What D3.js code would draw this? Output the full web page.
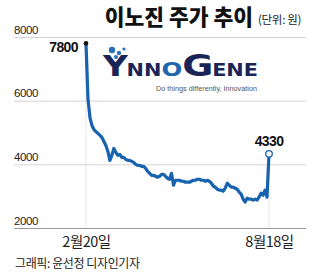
<!DOCTYPE html>
<meta charset="utf-8" />
<script src="https://d3js.org/d3.v7.min.js"></script>
<style>
  body { margin: 0; background: #fff; }
  svg text { font-family: 'Liberation Sans', Arial, sans-serif; }
  .kr { font-family: 'Noto Sans CJK KR', sans-serif; }
</style>
<div id="chart"></div>
<script>
  // daily closing prices, 2/20 .. 8/18 (won)
  const prices = [
    7800, 6050, 5469, 5219, 5094, 5031, 4969, 4906, 4844, 4719,
    4594, 4406, 4125, 4281, 4500, 4375, 4281, 4313, 4219, 4219,
    4156, 4125, 4125, 4094, 4063, 4000, 3969, 3969, 3938, 3938,
    3875, 3781, 3719, 3656, 3656, 3625, 3594, 3625, 3688, 3688,
    3625, 3563, 3531, 3719, 3344, 3500, 3500, 3500, 3469, 3469,
    3438, 3438, 3438, 3469, 3500, 3500, 3531, 3531, 3500, 3500,
    3469, 3500, 3469, 3406, 3313, 3281, 3219, 3188, 3188, 3156,
    3250, 3406, 3344, 3281, 3281, 3250, 3219, 3125, 3063, 2906,
    2813, 2938, 2906, 2906, 2875, 2906, 2875, 2969, 3094, 3031,
    3188, 2969, 4330
  ];
  const xTickLabels = ['2월20일', '8월18일'];
  const yTicks = [2000, 4000, 6000, 8000];

  const W = 320, H = 274;
  const svg = d3.select('#chart').append('svg')
    .attr('width', W).attr('height', H);

  const x = d3.scaleLinear().domain([0, prices.length - 1]).range([86, 269]);
  const y = d3.scaleLinear().domain([2000, 8000]).range([228, 37]);

  // title
  svg.append('text').attr('class', 'kr')
    .attr('x', 253).attr('y', 25)
    .attr('text-anchor', 'end')
    .style('font-size', '21.5px').style('font-weight', 900)
    .style('fill', '#111')
    .text('이노진 주가 추이');
  svg.append('text').attr('class', 'kr')
    .attr('x', 258).attr('y', 24)
    .style('font-size', '11.5px').style('fill', '#222')
    .style('letter-spacing', '-0.3px')
    .text('(단위: 원)');

  // y grid + labels
  const gy = svg.append('g')
    .attr('transform', 'translate(14,0)')
    .call(d3.axisRight(y).tickValues(yTicks).tickSize(292).tickFormat(d3.format('d')));
  gy.select('.domain').remove();
  gy.selectAll('.tick line').attr('stroke', d => d === 2000 ? '#999' : '#d4d4d4');
  gy.selectAll('.tick text')
    .attr('x', 0).attr('dy', -4)
    .attr('text-anchor', 'start')
    .style('font-size', '11.5px').style('fill', '#222')
    .style('letter-spacing', '-0.4px')
    .attr('y', 0);

  // dotted guides at start / end
  const ends = [0, prices.length - 1];
  svg.selectAll('.guide').data(ends).join('line')
    .attr('class', 'guide')
    .attr('x1', d => x(d)).attr('x2', d => x(d))
    .attr('y1', d => y(prices[d])).attr('y2', y(2000))
    .attr('stroke', '#ccc').attr('stroke-dasharray', '1,1');

  // x axis
  const gx = svg.append('g')
    .attr('transform', `translate(0,${y(2000)})`)
    .call(d3.axisBottom(x).tickValues(ends).tickSize(0)
      .tickFormat((d, i) => xTickLabels[i]));
  gx.select('.domain').remove();
  gx.selectAll('.tick text').attr('class', 'kr')
    .attr('dy', 0).attr('y', 18.5)
    .style('font-size', '14.5px').style('fill', '#222')
    .style('letter-spacing', '-0.5px');

  // logo (text rendition)
  const logo = svg.append('g');
  logo.append('text')
    .attr('x', 103).attr('y', 76)
    .attr('textLength', 155).attr('lengthAdjust', 'spacingAndGlyphs')
    .style('font-weight', 'bold').style('fill', '#1b2456')
    .style('font-family', "'DejaVu Sans', sans-serif")
    .call(t => {
      t.append('tspan').style('font-size', '28px').text('Y');
      t.append('tspan').style('font-size', '17px').attr('dx', -1).text('NN');
      t.append('tspan').style('font-size', '20px').style('fill', '#1e66b0').text('O');
      t.append('tspan').style('font-size', '31px').text('G');
      t.append('tspan').style('font-size', '17px').attr('dx', -1).text('ENE');
    });
  const dots = [[112, 50, 3.2], [119, 53, 2.2], [124, 49, 1.6], [116, 57, 2]];
  logo.selectAll('circle').data(dots).join('circle')
    .attr('cx', d => d[0]).attr('cy', d => d[1]).attr('r', d => d[2])
    .attr('fill', '#2a6fb8');
  logo.append('text')
    .attr('x', 156).attr('y', 91)
    .attr('textLength', 101).attr('lengthAdjust', 'spacingAndGlyphs')
    .style('font-size', '7.2px').style('fill', '#555')
    .text('Do things differently, Innovation');

  // price line
  const line = d3.line().x((d, i) => x(i)).y(d => y(d));
  svg.append('path').datum(prices)
    .attr('d', line)
    .attr('fill', 'none')
    .attr('stroke', '#1763b0')
    .attr('stroke-width', 3.2)
    .attr('stroke-linejoin', 'round');

  // endpoints
  svg.append('circle')
    .attr('cx', x(0)).attr('cy', y(prices[0])).attr('r', 2.3)
    .attr('fill', '#111');
  const last = prices.length - 1;
  svg.append('circle')
    .attr('cx', x(last)).attr('cy', y(prices[last])).attr('r', 3.3)
    .attr('fill', '#fff').attr('stroke', '#1763b0').attr('stroke-width', 1.3);

  svg.append('text')
    .attr('x', x(0) - 8).attr('y', y(prices[0]) + 9)
    .attr('text-anchor', 'end')
    .style('font-size', '14px').style('font-weight', 'bold')
    .style('letter-spacing', '-0.6px').style('fill', '#111')
    .text(prices[0]);
  svg.append('text')
    .attr('x', x(last)).attr('y', y(prices[last]) - 8)
    .attr('text-anchor', 'middle')
    .style('font-size', '14px').style('font-weight', 'bold')
    .style('letter-spacing', '-0.6px').style('fill', '#111')
    .text(prices[last]);

  // credit
  svg.append('text').attr('class', 'kr')
    .attr('x', 15).attr('y', 268)
    .style('font-size', '12px').style('fill', '#222')
    .style('letter-spacing', '-0.4px')
    .text('그래픽: 윤선정 디자인기자');
</script>
